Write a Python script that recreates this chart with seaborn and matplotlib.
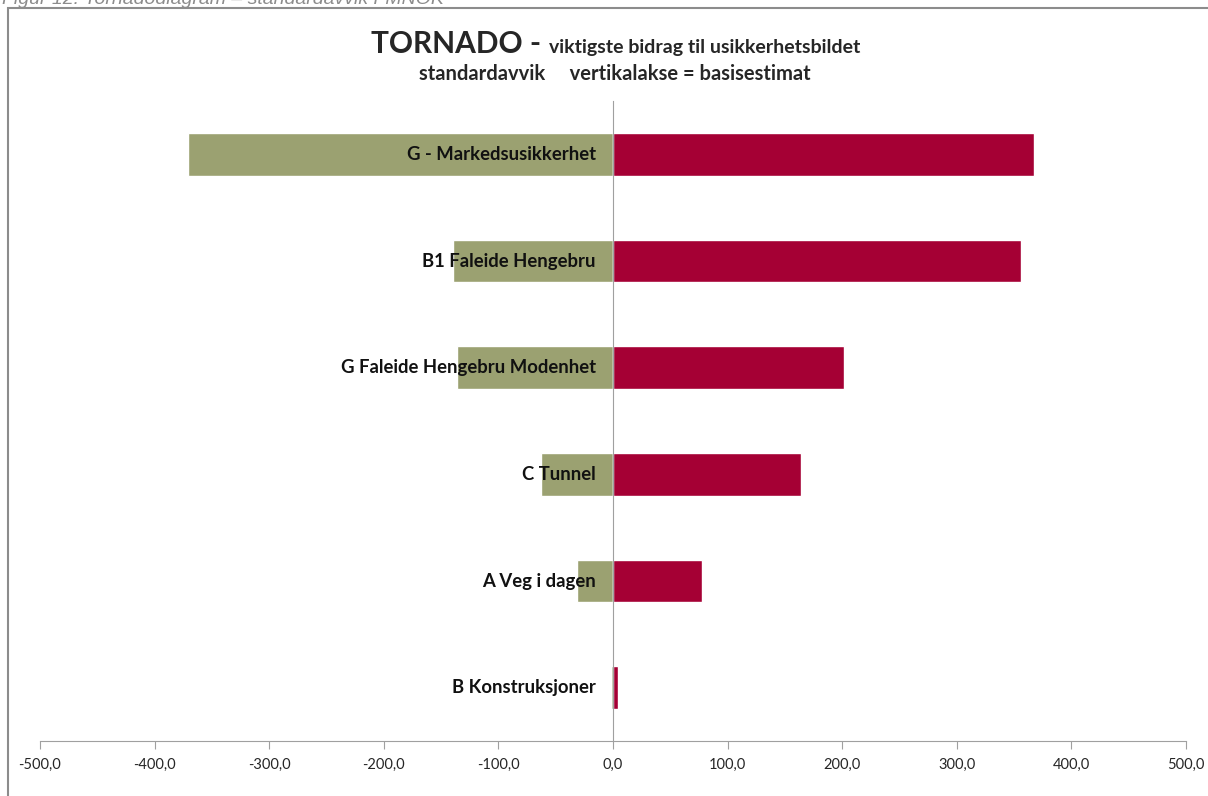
import seaborn as sns
import numpy as np
import pandas as pd
from matplotlib import pyplot as plt
from matplotlib.patches import Rectangle
from matplotlib.ticker import FuncFormatter

# data
kategorier = ['G - Markedsusikkerhet', 'B1 Faleide Hengebru', 'G Faleide Hengebru Modenhet',
              'C Tunnel', 'A Veg i dagen', 'B Konstruksjoner']
lav = [-371, -140, -136, -63, -31, -2]
hoy = [367, 356, 202, 164, 78, 4]

sns.set_style('white')
plt.rcParams['font.family'] = ['Lato', 'DejaVu Sans']

df = pd.DataFrame({'kategori': kategorier, 'lav': lav, 'hoy': hoy})

fig = plt.figure(figsize=(12.08, 7.96), dpi=100)
W, H = 1208, 796
ax = fig.add_axes([40 / W, 1 - 741 / H, (1186 - 40) / W, (741 - 101) / H])

sns.barplot(data=df, x='lav', y='kategori', orient='h', color='#9ba171',
            saturation=1, width=0.4, ax=ax)
sns.barplot(data=df, x='hoy', y='kategori', orient='h', color='#a50034',
            saturation=1, width=0.4, ax=ax)

ax.set_xlim(-500, 500)
ax.set_ylim(len(kategorier) - 0.5, -0.5)
ax.set_xlabel('')
ax.set_ylabel('')

# vertikal akse i 0
for s in ['top', 'right']:
    ax.spines[s].set_visible(False)
ax.spines['left'].set_position(('data', 0))
ax.spines['left'].set_color('#a0a0a0')
ax.spines['bottom'].set_color('#a0a0a0')
ax.set_yticks([])
ax.set_yticks(np.arange(0.5, len(kategorier) - 0.5, 1), minor=True)
ax.tick_params(axis='y', which='minor', direction='out', length=6, color='#a0a0a0', width=1)

ax.set_xticks(np.arange(-500, 501, 100))
ax.xaxis.set_major_formatter(FuncFormatter(lambda v, p: f'{v:.1f}'.replace('.', ',')))
ax.tick_params(axis='x', direction='out', length=6, color='#a0a0a0', labelsize=10.5,
               pad=6, bottom=True)

# etiketter inne i stolpene
for i, navn in enumerate(kategorier):
    ax.text(-15, i, navn, ha='right', va='center', fontsize=13.3, fontweight='bold', color='#111111')

# tittel
fig.text(541 / W, 1 - 53 / H, 'TORNADO -', ha='right', va='baseline',
         fontsize=21.5, fontweight='bold')
fig.text(549 / W, 1 - 53 / H, 'viktigste bidrag til usikkerhetsbildet', ha='left',
         va='baseline', fontsize=14, fontweight='bold')
fig.text(615 / W, 1 - 80 / H, 'standardavvik     vertikalakse = basisestimat', ha='center',
         va='baseline', fontsize=14.5, fontweight='bold')

# ramme og figurtekst
fig.patches.append(Rectangle((8 / W, -0.05), 1.1, 1 - 8 / H + 0.05, transform=fig.transFigure,
                             fill=False, edgecolor='#8c8c8c', linewidth=1.5, clip_on=False))
fig.text(2 / W, 1 - 4 / H, 'Figur 12: Tornadodiagram \u2013 standardavvik FMNOK', ha='left',
         va='baseline', fontsize=14, style='italic', color='#8c8c8c', family='Liberation Sans')

fig.savefig('out.png', dpi=100)
